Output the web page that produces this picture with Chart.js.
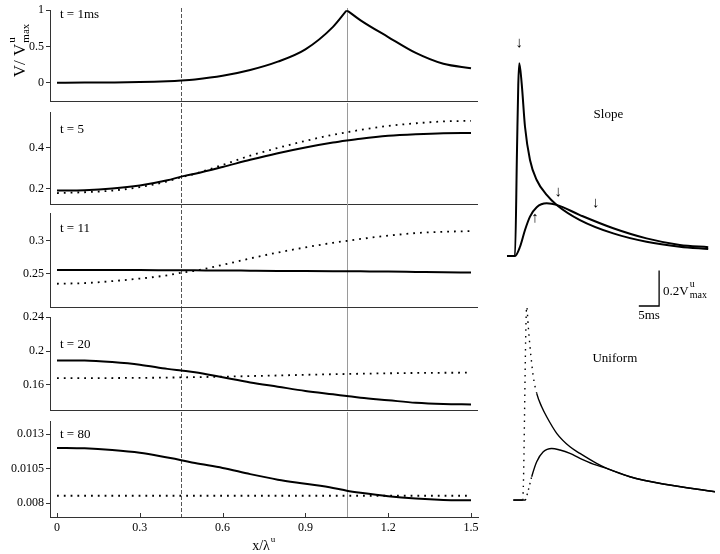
<!DOCTYPE html>
<html>
<head>
<meta charset="utf-8">
<script src="https://cdn.jsdelivr.net/npm/chart.js@4.4.1/dist/chart.umd.min.js"></script>
<style>
  html, body { margin: 0; padding: 0; background: #fff; }
  #wrap { position: relative; width: 720px; height: 554px; overflow: hidden; }
  canvas { position: absolute; }
</style>
</head>
<body>
<div id="wrap">
  <canvas id="p1"></canvas>
  <canvas id="p2"></canvas>
  <canvas id="p3"></canvas>
  <canvas id="p4"></canvas>
  <canvas id="p5"></canvas>
  <canvas id="traces"></canvas>
</div>
<script>
// position along the cable, x / lambda^u
const xs = [0, 0.1, 0.2, 0.3, 0.4, 0.45, 0.5, 0.6, 0.7, 0.8, 0.9, 1.0, 1.05, 1.1, 1.2, 1.3, 1.4, 1.5];

// V / Vmax at each time (solid = slope, dotted = uniform)
const v1Solid   = [0, 0.001, 0.003, 0.008, 0.02, 0.03, 0.045, 0.095, 0.175, 0.29, 0.46, 0.77, 1.0, 0.86, 0.63, 0.41, 0.26, 0.2];
const v5Solid   = [0.19, 0.192, 0.2, 0.215, 0.24, 0.258, 0.272, 0.305, 0.34, 0.372, 0.4, 0.424, 0.434, 0.443, 0.457, 0.465, 0.47, 0.471];
const v5Dotted  = [0.178, 0.182, 0.19, 0.207, 0.235, 0.255, 0.272, 0.315, 0.36, 0.398, 0.432, 0.462, 0.474, 0.486, 0.505, 0.518, 0.527, 0.53];
const v11Solid  = [0.2552, 0.2552, 0.2551, 0.255, 0.2548, 0.2547, 0.2546, 0.2544, 0.2541, 0.2538, 0.2536, 0.2534, 0.2533, 0.2531, 0.2527, 0.2522, 0.2517, 0.2513];
const v11Dotted = [0.234, 0.235, 0.238, 0.242, 0.247, 0.251, 0.254, 0.263, 0.273, 0.282, 0.29, 0.297, 0.3, 0.303, 0.308, 0.312, 0.314, 0.315];
const v20Solid  = [0.189, 0.1888, 0.187, 0.184, 0.179, 0.177, 0.175, 0.169, 0.163, 0.158, 0.153, 0.149, 0.147, 0.145, 0.142, 0.139, 0.1375, 0.137];
const v20Dotted = [0.168, 0.168, 0.1682, 0.1684, 0.1687, 0.169, 0.1692, 0.1698, 0.1705, 0.1712, 0.172, 0.1727, 0.173, 0.1733, 0.1738, 0.1742, 0.1744, 0.1745];
const v80Solid  = [0.012, 0.01197, 0.01185, 0.01165, 0.0113, 0.01111, 0.0109, 0.01055, 0.0101, 0.0097, 0.0094, 0.0091, 0.0089, 0.00875, 0.0085, 0.00833, 0.00823, 0.0082];
const v80Dotted = [0.00853, 0.00853, 0.00853, 0.00853, 0.00853, 0.00853, 0.00853, 0.00853, 0.00853, 0.00853, 0.00853, 0.00853, 0.00853, 0.00853, 0.00853, 0.00853, 0.00853, 0.00853];

const panelTitles = ['t = 1ms', 't = 5', 't = 11', 't = 20', 't = 80'];
const p1Ticks = [0, 0.5, 1],            p1Labels = ['0', '0.5', '1'];
const p2Ticks = [0.2, 0.4],             p2Labels = ['0.2', '0.4'];
const p3Ticks = [0.25, 0.3],            p3Labels = ['0.25', '0.3'];
const p4Ticks = [0.16, 0.2, 0.24],      p4Labels = ['0.16', '0.2', '0.24'];
const p5Ticks = [0.008, 0.0105, 0.013], p5Labels = ['0.008', '0.0105', '0.013'];
const xTicks = [0, 0.3, 0.6, 0.9, 1.2, 1.5];
const xTickLabels = ['0', '0.3', '0.6', '0.9', '1.2', '1.5'];
const markers = [0.45, 1.05];

// time courses (ms, V/Vmax) on the right
const slopeFastT = [1.72, 3.69, 4.19, 4.5, 4.75, 5.34, 6.16, 7.39, 9.04, 11.5, 13.97, 19.7, 27.9, 36.1, 44.3, 51.3];
const slopeFastV = [0, 0, 0.596, 0.96, 1.083, 0.97, 0.726, 0.539, 0.427, 0.343, 0.287, 0.202, 0.127, 0.08, 0.052, 0.039];
const slopeSlowT = [1.72, 3.69, 4.93, 6.16, 7.39, 9.04, 11.5, 13.97, 19.7, 27.9, 36.1, 44.3, 51.3];
const slopeSlowV = [0, 0, 0.052, 0.146, 0.221, 0.274, 0.296, 0.287, 0.23, 0.156, 0.099, 0.062, 0.049];
const uniFastT = [3.28, 5.59, 6.58, 6.97, 7.39, 7.81, 8.2, 9.04, 10.27, 11.5, 13.97, 17.24, 19.7, 23.8, 26.3, 32.0, 40.2, 52.96];
const uniFastV = [0, 0, 1.086, 0.973, 0.861, 0.768, 0.693, 0.599, 0.524, 0.468, 0.375, 0.299, 0.262, 0.206, 0.178, 0.131, 0.09, 0.047];
const uniSlowT = [3.28, 6.16, 6.97, 7.81, 9.04, 10.66, 12.73, 14.78, 17.24, 19.7, 22.98, 26.3, 32.0, 40.2, 52.96];
const uniSlowV = [0, 0, 0.056, 0.131, 0.215, 0.271, 0.29, 0.281, 0.262, 0.234, 0.202, 0.178, 0.131, 0.09, 0.047];
const barT = [34.2, 39.2, 39.2];
const barV = [1.09, 1.09, 1.29];
const slopeArrows = [[4.75, 1.197, '↓'], [14.36, 0.361, '↓'], [23.6, 0.298, '↓'], [8.62, 0.213, '↑']];

const SERIF = '"Liberation Serif", "Times New Roman", serif';
Chart.defaults.font.family = SERIF;
Chart.defaults.color = '#000';

const pts = (xv, yv) => xv.map((x, i) => ({ x: x, y: yv[i] }));

function drawSupSub(ctx, x, y, main, sup, sub, size, small) {
  ctx.font = size + 'px ' + SERIF;
  ctx.fillText(main, x, y);
  const w = ctx.measureText(main).width;
  ctx.font = small + 'px ' + SERIF;
  if (sup) ctx.fillText(sup, x + w + 1, y - size * 0.6);
  if (sub) ctx.fillText(sub, x + w + 1, y + size * 0.25);
  return w;
}

const solid = (data) => ({ data, borderColor: '#000', borderWidth: 2, pointRadius: 0, fill: false, cubicInterpolationMode: 'monotone' });
const dotted = (data) => ({ data, borderColor: '#000', borderWidth: 1.8, borderDash: [1.8, 5], pointRadius: 0, fill: false, cubicInterpolationMode: 'monotone' });

const panelDeco = {
  id: 'panelDeco',
  beforeDatasetsDraw(chart, args, o) {
    const { ctx, chartArea: a, scales: { x } } = chart;
    ctx.save();
    markers.forEach((m, k) => {
      const px = Math.round(x.getPixelForValue(m)) + 0.5;
      ctx.beginPath();
      ctx.strokeStyle = k === 0 ? '#555' : '#9a9a9a';
      ctx.lineWidth = 1;
      ctx.setLineDash(k === 0 ? [4, 2] : []);
      ctx.moveTo(px, o.lineTop);
      ctx.lineTo(px, a.bottom);
      ctx.stroke();
    });
    ctx.restore();
  },
  afterDraw(chart, args, o) {
    const { ctx, chartArea: a, scales: { x } } = chart;
    ctx.save();
    ctx.strokeStyle = '#333';
    ctx.lineWidth = 1;
    if (!o.last) {
      ctx.beginPath();
      ctx.moveTo(a.left, Math.round(a.bottom) + 0.5);
      ctx.lineTo(a.right, Math.round(a.bottom) + 0.5);
      ctx.stroke();
    } else {
      xTicks.forEach(v => {
        const px = Math.round(x.getPixelForValue(v)) + 0.5;
        ctx.beginPath();
        ctx.moveTo(px, a.bottom);
        ctx.lineTo(px, a.bottom - 4);
        ctx.stroke();
      });
      // x/lambda^u
      ctx.fillStyle = '#000';
      ctx.textAlign = 'left';
      ctx.textBaseline = 'alphabetic';
      ctx.font = '14px ' + SERIF;
      const w = ctx.measureText('x/λ').width + 6;
      drawSupSub(ctx, (a.left + a.right) / 2 - w / 2, a.bottom + 33, 'x/λ', 'u', null, 14, 9);
    }
    ctx.fillStyle = '#000';
    ctx.textAlign = 'left';
    ctx.textBaseline = 'middle';
    ctx.font = '13px ' + SERIF;
    ctx.fillText(o.title, a.left + 10, a.top + o.titleDy);
    if (o.ylabel) {
      ctx.save();
      ctx.translate(25, a.top + 67);
      ctx.rotate(-Math.PI / 2);
      ctx.textBaseline = 'alphabetic';
      drawSupSub(ctx, 0, 0, 'V/ V', 'u', 'max', 17, 11);
      ctx.restore();
    }
    ctx.restore();
  }
};

// panel layout: plot-area top/bottom in page pixels, axis range
const panels = [
  { id: 'p1', top: 10,  bottom: 105, min: -0.25,   max: 1.0,     ticks: p1Ticks, labels: p1Labels, titleDy: 4,
    sets: [solid(pts(xs.slice(0, 13), v1Solid.slice(0, 13))), solid(pts(xs.slice(12), v1Solid.slice(12)))] },
  { id: 'p2', top: 112, bottom: 208, min: 0.1256,  max: 0.572,   ticks: p2Ticks, labels: p2Labels, titleDy: 17,
    sets: [dotted(pts(xs, v5Dotted)), solid(pts(xs, v5Solid))] },
  { id: 'p3', top: 213, bottom: 311, min: 0.1985,  max: 0.3426,  ticks: p3Ticks, labels: p3Labels, titleDy: 15,
    sets: [dotted(pts(xs, v11Dotted)), solid(pts(xs, v11Solid))] },
  { id: 'p4', top: 317, bottom: 414, min: 0.1307,  max: 0.24,    ticks: p4Ticks, labels: p4Labels, titleDy: 27,
    sets: [dotted(pts(xs, v20Dotted)), solid(pts(xs, v20Solid))] },
  { id: 'p5', top: 421, bottom: 517, min: 0.00699, max: 0.01394, ticks: p5Ticks, labels: p5Labels, titleDy: 13,
    sets: [dotted(pts(xs, v80Dotted)), solid(pts(xs, v80Solid))] }
];

panels.forEach((p, i) => {
  const last = i === panels.length - 1;
  const padTop = 9, padBot = last ? 0 : 5;
  const cTop = p.top - padTop;
  const h = last ? 554 - cTop : p.bottom - p.top + padTop + padBot;
  const cv = document.getElementById(p.id);
  cv.width = 490; cv.height = h;
  cv.style.left = '0px'; cv.style.top = cTop + 'px';
  cv.style.width = '490px'; cv.style.height = h + 'px';
  new Chart(cv, {
    type: 'line',
    data: { datasets: p.sets },
    options: {
      responsive: false, animation: false, devicePixelRatio: 1,
      layout: { padding: { left: 0, right: 12, top: padTop, bottom: padBot } },
      plugins: {
        legend: { display: false }, tooltip: { enabled: false },
        panelDeco: { title: panelTitles[i], titleDy: p.titleDy, last: last, ylabel: i === 0, lineTop: i === 0 ? padTop - 2 : 0 }
      },
      scales: {
        x: {
          type: 'linear', min: -0.0254, max: 1.5254, display: last,
          afterFit: s => { s.height = last ? 37 : 0; },
          afterBuildTicks: s => { s.ticks = xTicks.map(v => ({ value: v })); },
          ticks: { callback: (v, k) => xTickLabels[k], font: { size: 12 }, padding: 4, maxRotation: 0, autoSkip: false },
          grid: { display: true, drawOnChartArea: false, drawTicks: false, color: '#333' },
          border: { display: true, color: '#333', width: 1 }
        },
        y: {
          type: 'linear', min: p.min, max: p.max,
          afterFit: s => { s.width = 50; },
          afterBuildTicks: s => { s.ticks = p.ticks.map(v => ({ value: v })); },
          ticks: { callback: (v, k) => p.labels[k], font: { size: 12 }, padding: 2, autoSkip: false },
          grid: { display: true, drawOnChartArea: false, drawTicks: true, tickLength: 4, color: '#333' },
          border: { display: true, color: '#333', width: 1 }
        }
      }
    },
    plugins: [panelDeco]
  });
});

// right-hand time courses
const traceDeco = {
  id: 'traceDeco',
  afterDatasetsDraw(chart) {
    const { ctx, scales: { x, ys, yu } } = chart;
    ctx.save();
    ctx.fillStyle = '#000';
    ctx.textAlign = 'center';
    ctx.textBaseline = 'middle';
    ctx.font = '15px ' + SERIF;
    slopeArrows.forEach(([t, v, ch]) => ctx.fillText(ch, x.getPixelForValue(t), ys.getPixelForValue(v)));
    ctx.font = '13px ' + SERIF;
    ctx.fillText('Slope', x.getPixelForValue(26.7), ys.getPixelForValue(0.792));
    ctx.fillText('Uniform', x.getPixelForValue(28.3), yu.getPixelForValue(0.792));
    // scale bar labels
    const cx = x.getPixelForValue(barT[1]), cy = yu.getPixelForValue(barV[1]);
    const lx = x.getPixelForValue(barT[0]);
    ctx.textBaseline = 'alphabetic';
    ctx.fillText('5ms', (lx + cx) / 2, cy + 13);
    ctx.textAlign = 'left';
    drawSupSub(ctx, cx + 4, cy - 11, '0.2V', 'u', 'max', 13, 10);
    ctx.restore();
  }
};

const rc = document.getElementById('traces');
rc.width = 230; rc.height = 554;
rc.style.left = '490px'; rc.style.top = '0px';
rc.style.width = '230px'; rc.style.height = '554px';
const trace = (data, axis, w) => ({ data, yAxisID: axis, borderColor: '#000', borderWidth: w, pointRadius: 0, fill: false, cubicInterpolationMode: 'monotone' });
new Chart(rc, {
  type: 'line',
  data: {
    datasets: [
      trace(pts(slopeFastT, slopeFastV), 'ys', 2),
      trace(pts(slopeSlowT, slopeSlowV), 'ys', 2),
      Object.assign(trace(pts(uniFastT, uniFastV), 'yu', 1.4), {
        segment: { borderDash: c => (c.p0DataIndex >= 1 && c.p0DataIndex <= 6) ? [1.5, 5] : undefined }
      }),
      Object.assign(trace(pts(uniSlowT, uniSlowV), 'yu', 1.4), {
        segment: { borderDash: c => (c.p0DataIndex === 1 || c.p0DataIndex === 2) ? [1.5, 4] : undefined }
      }),
      Object.assign(trace(pts(barT, barV), 'yu', 1.3), { cubicInterpolationMode: 'default', tension: 0 })
    ]
  },
  options: {
    responsive: false, animation: false, devicePixelRatio: 1,
    layout: { padding: { left: 10, right: 0, top: 0, bottom: 0 } },
    plugins: { legend: { display: false }, tooltip: { enabled: false } },
    scales: {
      x:  { type: 'linear', display: false, min: 0, max: 54.2 },
      ys: { type: 'linear', position: 'left', display: false, min: -1.674, max: 1.438 },
      yu: { type: 'linear', position: 'left', display: false, min: -0.303, max: 2.809 }
    }
  },
  plugins: [traceDeco]
});
</script>
</body>
</html>
